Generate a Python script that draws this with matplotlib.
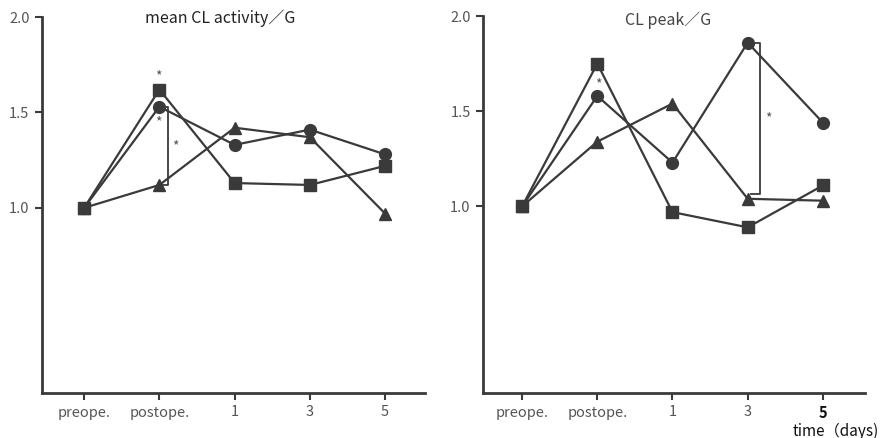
import matplotlib.pyplot as plt

plt.rcParams['font.family'] = ['Noto Sans CJK JP', 'DejaVu Sans']

days = ['preope.', 'postope.', '1', '3', '5']
xpos = [0, 1, 2, 3, 4]

# mean CL activity / G
act_square = [1.00, 1.62, 1.13, 1.12, 1.22]
act_circle = [1.00, 1.53, 1.33, 1.41, 1.28]
act_triangle = [1.00, 1.12, 1.42, 1.37, 0.97]

# CL peak / G
peak_square = [1.00, 1.75, 0.97, 0.89, 1.11]
peak_circle = [1.00, 1.58, 1.23, 1.86, 1.44]
peak_triangle = [1.00, 1.34, 1.54, 1.04, 1.03]

ink = '#3a3a3a'
grey = '#555555'

fig = plt.figure(figsize=(8.82, 4.38), dpi=100)
ax1 = fig.add_axes([42/882, 45/438, 383/882, 376/438])
ax2 = fig.add_axes([483/882, 45/438, 382/882, 377/438])


def draw(ax, sq, ci, tr, xlim, ylim):
    style = dict(color=ink, linewidth=1.6, markersize=8.5, markeredgecolor=ink, markerfacecolor=ink)
    ax.plot(xpos, tr, marker='^', **style)
    ax.plot(xpos, ci, marker='o', **style)
    ax.plot(xpos, sq, marker='s', **style)
    ax.set_xlim(*xlim)
    ax.set_ylim(*ylim)
    ax.set_yticks([1.0, 1.5, 2.0])
    ax.set_yticklabels(['1.0', '1.5', '2.0'])
    ax.set_xticks(xpos)
    ax.set_xticklabels(days)
    for side in ['top', 'right']:
        ax.spines[side].set_visible(False)
    for side in ['left', 'bottom']:
        ax.spines[side].set_color(ink)
        ax.spines[side].set_linewidth(2)
    ax.tick_params(axis='both', colors=ink, width=1.5, length=5, labelsize=10.5, labelcolor=grey, pad=4)


draw(ax1, act_square, act_circle, act_triangle, (-0.56, 4.53), (0.03, 2.0))
draw(ax2, peak_square, peak_circle, peak_triangle, (-0.52, 4.56), (0.02, 2.0))

# significance brackets
ax1.plot([1.04, 1.12, 1.12, 1.04], [act_circle[1], act_circle[1], act_triangle[1], act_triangle[1]],
         color=ink, linewidth=1.3)
ax2.plot([3.04, 3.16, 3.16, 3.04], [peak_circle[3], peak_circle[3], 1.065, 1.065],
         color=ink, linewidth=1.3)

star = dict(ha='center', va='center', fontsize=10, color=grey)
ax1.text(0.98, 1.69, '*', **star)
ax1.text(0.98, 1.45, '*', **star)
ax1.text(1.21, 1.32, '*', **star)
ax2.text(1.02, 1.64, '*', **star)
ax2.text(3.27, 1.46, '*', **star)

fig.text(220/882, 1 - 18/438, 'mean CL activity／G', ha='center', va='center', fontsize=11.5, color='#222222')
fig.text(668/882, 1 - 20/438, 'CL peak／G', ha='center', va='center', fontsize=11.5, color='#444444')

last = ax2.get_xticklabels()[-1]
last.set_color('#111111')
last.set_fontweight('bold')
fig.text(836/882, 1 - 431/438, 'time（days)', ha='center', va='center', fontsize=11, color='#111111')

fig.savefig('out.png', dpi=100, facecolor='white')
